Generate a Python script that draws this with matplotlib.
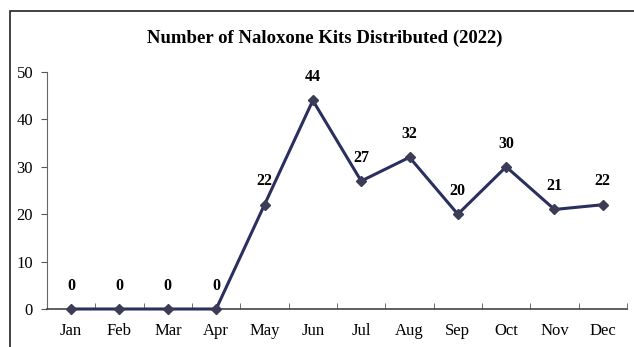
import matplotlib.pyplot as plt
from matplotlib.patches import Rectangle
import numpy as np

months = ["Jan", "Feb", "Mar", "Apr", "May", "Jun", "Jul", "Aug", "Sep", "Oct", "Nov", "Dec"]
kits = [0, 0, 0, 0, 22, 44, 27, 32, 20, 30, 21, 22]
yticks = [0, 10, 20, 30, 40, 50]

plt.rcParams['font.family'] = ['Liberation Serif', 'DejaVu Serif']

fig = plt.figure(figsize=(6.34, 3.47), dpi=100)
ax = fig.add_axes([47/634, 1 - 309/347, (627-47)/634, (309-72)/347])

x = np.arange(len(months))
ax.plot(x, kits, color="#2b2f5e", lw=2.2, marker="D", ms=5,
        markerfacecolor="#3a3d55", markeredgecolor="#3a3d55", clip_on=False, zorder=3)

for xi, v in zip(x, kits):
    ax.annotate(str(v), (xi, v), xytext=(0, 11), textcoords="offset points",
                ha="center", va="bottom", fontsize=11.5, fontweight="bold")

ax.set_xlim(-0.5, len(months) - 0.5)
ax.set_ylim(0, 50)
ax.set_yticks(yticks)
ax.set_xticks(x)
ax.set_xticklabels(months)
ax.set_xticks(np.arange(-0.5, len(months)), minor=True)
ax.tick_params(axis="x", which="major", length=0, pad=10, labelsize=12)
ax.tick_params(axis="x", which="minor", direction="in", length=4, color="#555555")
ax.tick_params(axis="y", direction="out", length=4, labelsize=12, pad=6, color="#555555")

for s in ["top", "right"]:
    ax.spines[s].set_visible(False)
ax.spines["left"].set_color("#666666")
ax.spines["bottom"].set_color("#444444")
ax.spines["bottom"].set_linewidth(1.2)

fig.text(0.5 * (152 + 498) / 634, 1 - 38/347, "Number of Naloxone Kits Distributed (2022)",
         ha="center", va="center", fontsize=13.5, fontweight="bold")

fig.patches.append(Rectangle((10/634, -0.1), 1.2, 1 - 11/347 + 0.1, transform=fig.transFigure,
                             fill=False, edgecolor="#222222", lw=1.2))

fig.savefig("out.png", dpi=100)
